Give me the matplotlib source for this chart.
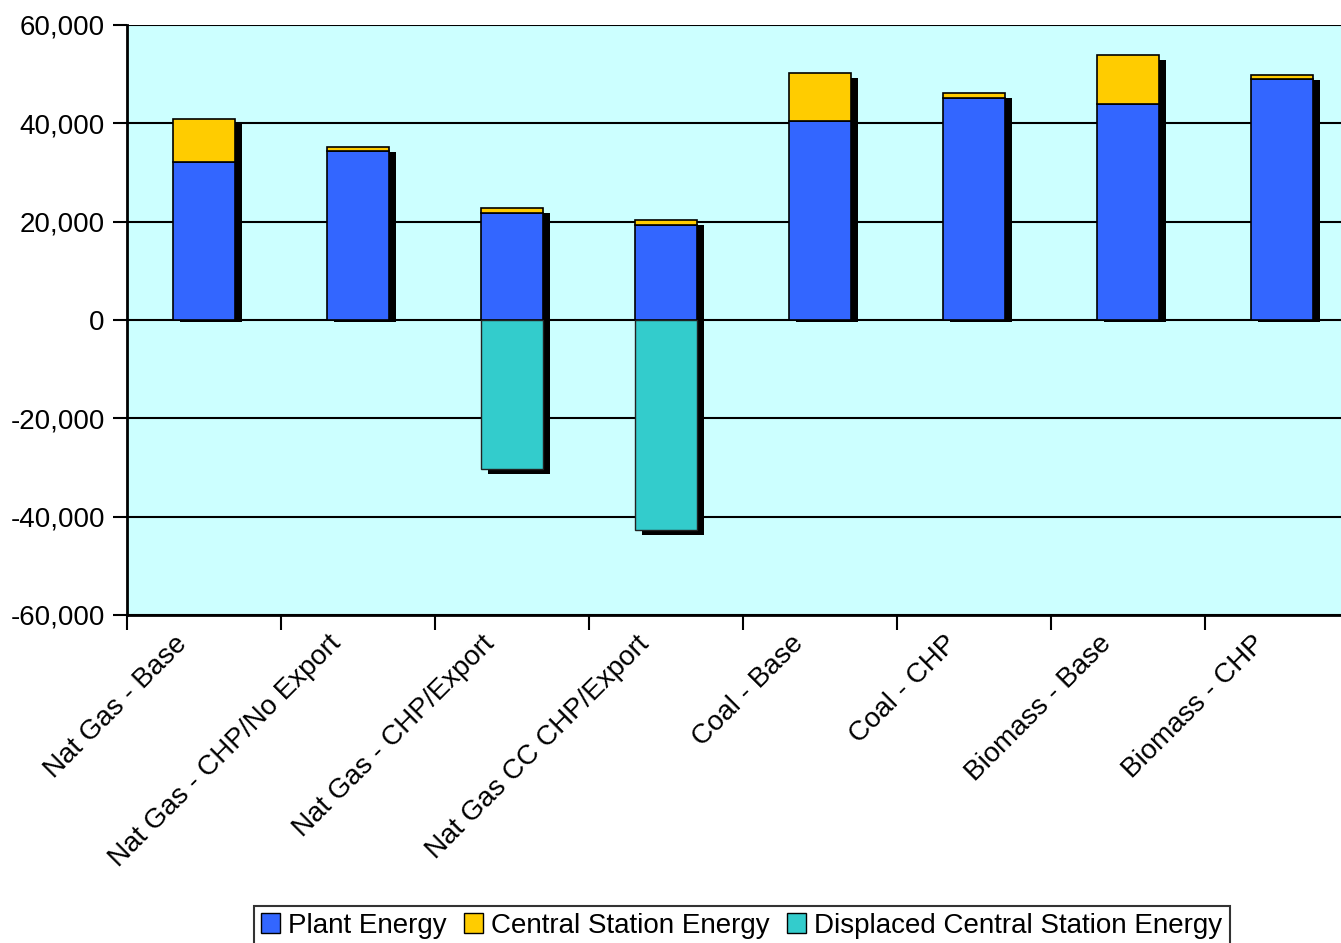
import numpy as np
import matplotlib
matplotlib.use('Agg')
import matplotlib.pyplot as plt
import matplotlib.transforms as mtransforms
from matplotlib.patches import Patch
from matplotlib.ticker import FuncFormatter

plt.rcParams['font.family'] = ['Liberation Sans', 'DejaVu Sans']

# Data
categories = [
    'Nat Gas - Base', 'Nat Gas - CHP/No Export', 'Nat Gas - CHP/Export',
    'Nat Gas CC CHP/Export', 'Coal - Base', 'Coal - CHP',
    'Biomass - Base', 'Biomass - CHP'
]
plant_energy = [32200, 34400, 21800, 19300, 40400, 45100, 43900, 49000]
central_station = [8600, 800, 1000, 1000, 9900, 1000, 9900, 900]
displaced_central = [0, 0, -30400, -42700, 0, 0, 0, 0]
y_ticks = [-60000, -40000, -20000, 0, 20000, 40000, 60000]

COL_PLANT = '#3366FF'
COL_CENTRAL = '#FFCC00'
COL_DISPLACED = '#33CCCC'
COL_BG = '#CCFFFF'

fig = plt.figure(figsize=(13.41, 9.43), dpi=100)
ax = fig.add_axes([127 / 1341, 1 - 615 / 943, 1232 / 1341, 590 / 943])
ax.set_facecolor(COL_BG)

x = np.arange(len(categories))
width = 0.4
plant = np.array(plant_energy)
central = np.array(central_station)
displaced = np.array(displaced_central)

# drop shadows behind each stack (positive-only stacks barely peek below zero)
shadow = ax.transData + mtransforms.ScaledTranslation(7 / 100, -5 / 100, fig.dpi_scale_trans)
tops = plant + central
shadow_bottom = np.where(displaced < 0, displaced, 600)
ax.bar(x, tops - shadow_bottom, width, bottom=shadow_bottom, color='black',
       transform=shadow, zorder=2)

ax.bar(x, plant, width, color=COL_PLANT, edgecolor='black', linewidth=1.2, zorder=3)
ax.bar(x, central, width, bottom=plant, color=COL_CENTRAL, edgecolor='black',
       linewidth=1.2, zorder=3)
neg = displaced < 0
ax.bar(x[neg], displaced[neg], width, color=COL_DISPLACED, edgecolor='#222222',
       linewidth=1.0, zorder=3)

ax.set_xlim(-0.5, len(categories) - 0.5)
ax.set_ylim(-60000, 60000)
ax.set_yticks(y_ticks)
ax.yaxis.set_major_formatter(FuncFormatter(lambda v, p: f'{int(v):,}'))
ax.grid(axis='y', color='black', linewidth=1.5, zorder=1)
ax.set_axisbelow(True)

for side in ['top', 'right']:
    ax.spines[side].set_visible(False)
ax.spines['left'].set_linewidth(2)
ax.spines['bottom'].set_linewidth(2)

ax.set_xticks(np.arange(-0.5, len(categories), 1))
ax.set_xticklabels([])
ax.set_xticks(x, minor=True)
ax.set_xticklabels(categories, minor=True, rotation=45, ha='right',
                   va='center', rotation_mode='anchor', fontsize=20)
ax.tick_params(axis='x', which='major', direction='out', length=11, width=1.5)
ax.tick_params(axis='x', which='minor', length=0, pad=0)
ax.tick_params(axis='y', direction='out', length=10, width=1.5, labelsize=20, pad=6)

offset = mtransforms.ScaledTranslation(-21 / 100, -25 / 100, fig.dpi_scale_trans)
for lbl in ax.xaxis.get_minorticklabels():
    lbl.set_transform(lbl.get_transform() + offset)

handles = [
    Patch(facecolor=COL_PLANT, edgecolor='black', label='Plant Energy'),
    Patch(facecolor=COL_CENTRAL, edgecolor='black', label='Central Station Energy'),
    Patch(facecolor=COL_DISPLACED, edgecolor='black', label='Displaced Central Station Energy'),
]
leg = fig.legend(handles=handles, loc='upper center', bbox_to_anchor=(0.553, 1 - 892 / 943),
                 ncol=3, fontsize=20, frameon=True, fancybox=False, edgecolor='black',
                 handlelength=0.7, handleheight=0.7, handletextpad=0.3, columnspacing=0.6,
                 borderpad=0.25)
leg.get_frame().set_linewidth(1.5)

fig.savefig('out.png', dpi=100)
